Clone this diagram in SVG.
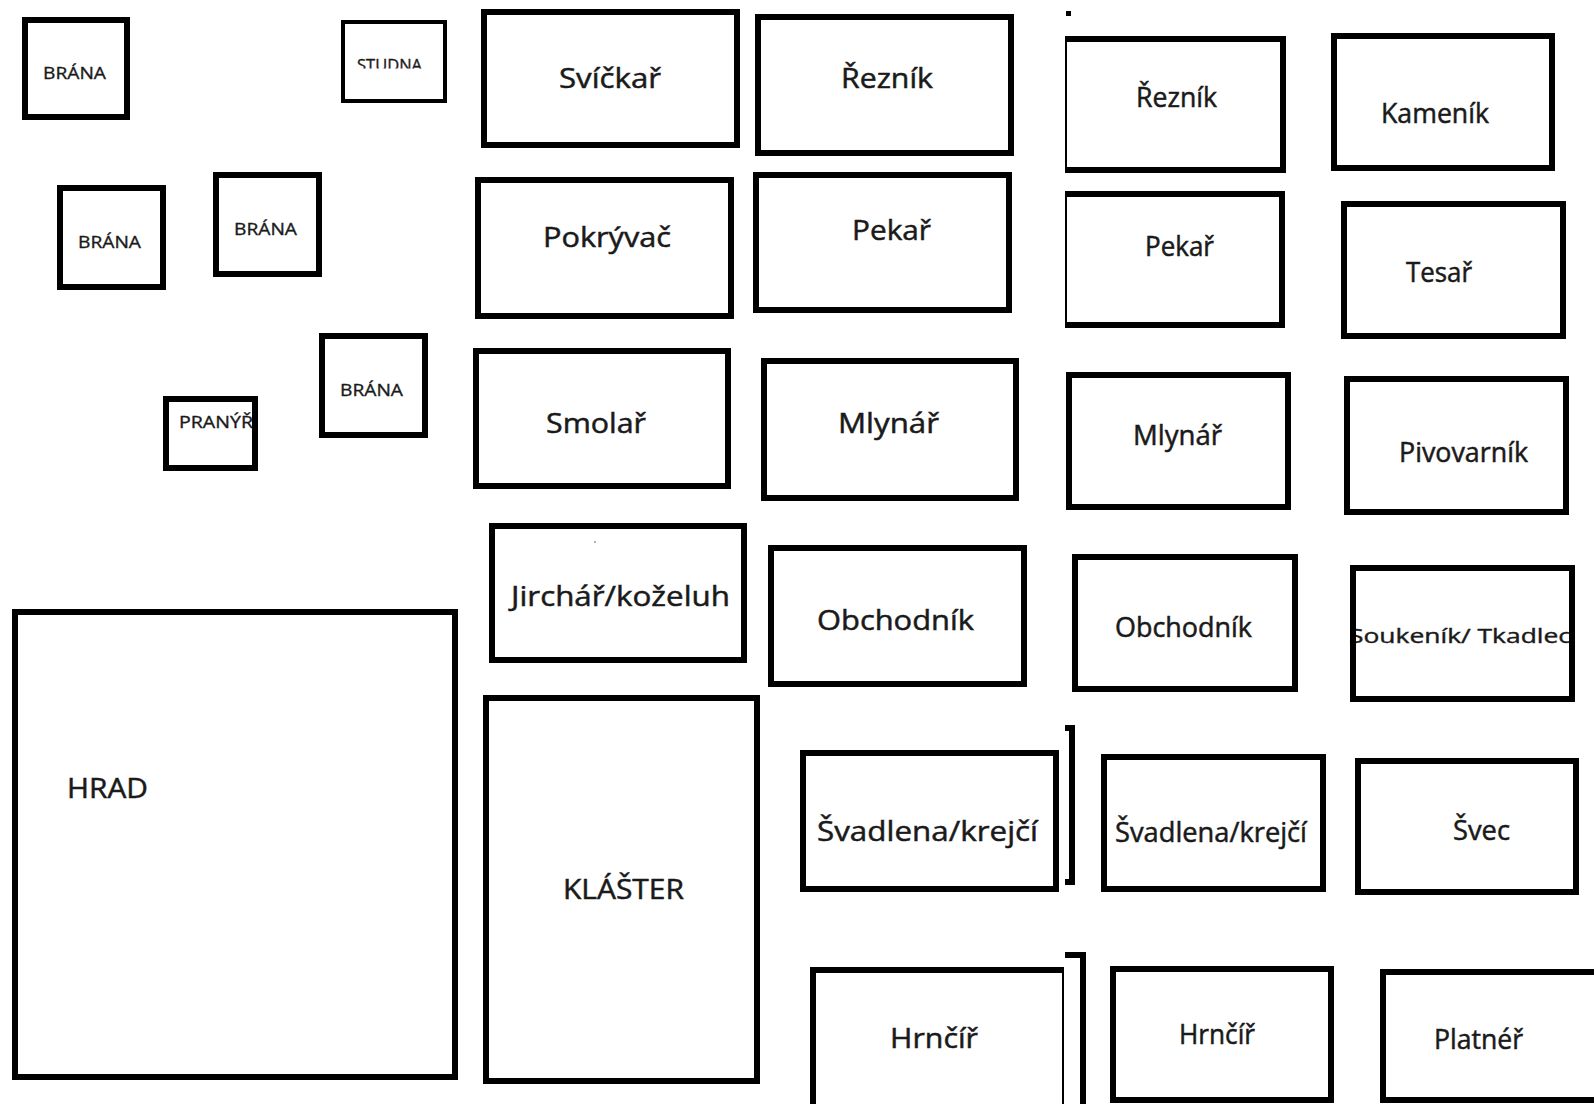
<svg xmlns="http://www.w3.org/2000/svg" width="1594" height="1104" viewBox="0 0 1594 1104">
<style>
.box{fill:none;stroke:#000;stroke-width:6;stroke-linejoin:miter}
.thinbox{fill:none;stroke:#000;stroke-width:4}
.hair{fill:none;stroke:#000;stroke-width:2}
.lbl{font-family:'Open Sans','Liberation Sans',sans-serif;fill:#1a1a1a;stroke:#1a1a1a;stroke-width:0.5;font-size:28px}
.mid{font-size:27px}
.sm{font-size:17px;stroke-width:0.35}
.xs{font-size:20px;stroke-width:0.4}
</style>
<defs>
<clipPath id="studnaClip"><rect x="345" y="24" width="98" height="44.5"/></clipPath>
</defs>
<rect x="0" y="0" width="1594" height="1104" fill="#fff"/>

<g id="brana-1"><rect class="box" x="25" y="20" width="102" height="97"/><text class="lbl sm" x="43" y="79" textLength="63" lengthAdjust="spacingAndGlyphs">BRÁNA</text></g>
<g id="studna"><rect class="thinbox" x="343" y="22" width="102" height="79"/><text class="lbl sm" x="357" y="70.5" textLength="65" lengthAdjust="spacingAndGlyphs" clip-path="url(#studnaClip)" style="font-size:16px">STUDNA</text></g>
<g id="brana-2"><rect class="box" x="60" y="188" width="103" height="99"/><text class="lbl sm" x="78" y="248" textLength="63" lengthAdjust="spacingAndGlyphs">BRÁNA</text></g>
<g id="brana-3"><rect class="box" x="216" y="175" width="103" height="99"/><text class="lbl sm" x="234" y="235" textLength="63" lengthAdjust="spacingAndGlyphs">BRÁNA</text></g>
<g id="brana-4"><rect class="box" x="322" y="336" width="103" height="99"/><text class="lbl sm" x="340" y="396" textLength="63" lengthAdjust="spacingAndGlyphs">BRÁNA</text></g>
<g id="pranyr"><text class="lbl sm" x="179" y="428" textLength="74" lengthAdjust="spacingAndGlyphs">PRANÝŘ</text><rect class="box" x="166" y="399" width="89" height="69"/></g>

<g id="svickar"><rect class="box" x="484" y="12" width="253" height="133"/><text class="lbl" x="559" y="88" textLength="102" lengthAdjust="spacingAndGlyphs">Svíčkař</text></g>
<g id="reznik-1"><rect class="box" x="758" y="17" width="253" height="136"/><text class="lbl" x="841" y="88" textLength="92" lengthAdjust="spacingAndGlyphs">Řezník</text></g>
<g id="reznik-2"><path class="box" d="M1065,39 H1283 V170 H1065"/><line class="hair" x1="1066" y1="36" x2="1066" y2="173"/><text class="lbl mid" x="1136" y="107" textLength="81" lengthAdjust="spacingAndGlyphs">Řezník</text></g>
<g id="kamenik"><rect class="box" x="1334" y="36" width="218" height="132"/><text class="lbl mid" x="1381" y="123" textLength="108" lengthAdjust="spacingAndGlyphs">Kameník</text></g>

<g id="pokryvac"><rect class="box" x="478" y="180" width="253" height="136"/><text class="lbl" x="543" y="247" textLength="128" lengthAdjust="spacingAndGlyphs">Pokrývač</text></g>
<g id="pekar-1"><rect class="box" x="756" y="175" width="253" height="135"/><text class="lbl" x="852" y="240" textLength="79" lengthAdjust="spacingAndGlyphs">Pekař</text></g>
<g id="pekar-2"><path class="box" d="M1065,194 H1282 V325 H1065"/><line class="hair" x1="1066" y1="191" x2="1066" y2="328"/><text class="lbl mid" x="1145" y="256" textLength="69" lengthAdjust="spacingAndGlyphs">Pekař</text></g>
<g id="tesar"><rect class="box" x="1344" y="204" width="219" height="132"/><text class="lbl mid" x="1406" y="282" textLength="66" lengthAdjust="spacingAndGlyphs">Tesař</text></g>

<g id="smolar"><rect class="box" x="476" y="351" width="252" height="135"/><text class="lbl" x="546" y="433" textLength="100" lengthAdjust="spacingAndGlyphs">Smolař</text></g>
<g id="mlynar-1"><rect class="box" x="764" y="361" width="252" height="137"/><text class="lbl" x="838" y="433" textLength="101" lengthAdjust="spacingAndGlyphs">Mlynář</text></g>
<g id="mlynar-2"><rect class="box" x="1069" y="375" width="219" height="132"/><text class="lbl mid" x="1133" y="445" textLength="89" lengthAdjust="spacingAndGlyphs">Mlynář</text></g>
<g id="pivovarnik"><rect class="box" x="1347" y="379" width="219" height="133"/><text class="lbl mid" x="1399" y="462" textLength="129" lengthAdjust="spacingAndGlyphs">Pivovarník</text></g>

<g id="jirchar"><rect class="box" x="492" y="526" width="252" height="134"/><circle cx="595" cy="542" r="1" fill="#999"/><text class="lbl" x="511" y="606" textLength="219" lengthAdjust="spacingAndGlyphs">Jirchář/koželuh</text></g>
<g id="obchodnik-1"><rect class="box" x="771" y="548" width="253" height="136"/><text class="lbl" x="817" y="630" textLength="157" lengthAdjust="spacingAndGlyphs">Obchodník</text></g>
<g id="obchodnik-2"><rect class="box" x="1075" y="557" width="220" height="132"/><text class="lbl mid" x="1115" y="637" textLength="137" lengthAdjust="spacingAndGlyphs">Obchodník</text></g>
<g id="soukenik"><text class="lbl xs" x="1349" y="643" textLength="222" lengthAdjust="spacingAndGlyphs">Soukeník/ Tkadlec</text><rect class="box" x="1353" y="568" width="219" height="131"/></g>

<g id="hrad"><rect class="box" x="15" y="612" width="440" height="465"/><text class="lbl" x="67" y="798" textLength="81" lengthAdjust="spacingAndGlyphs">HRAD</text></g>
<g id="klaster"><rect class="box" x="486" y="698" width="271" height="383"/><text class="lbl" x="563" y="899" textLength="121" lengthAdjust="spacingAndGlyphs">KLÁŠTER</text></g>

<g id="svadlena-1"><rect class="box" x="803" y="753" width="253" height="136"/><text class="lbl" x="817" y="841" textLength="221" lengthAdjust="spacingAndGlyphs">Švadlena/krejčí</text></g>
<g id="svadlena-2"><rect class="box" x="1104" y="757" width="219" height="132"/><text class="lbl mid" x="1115" y="842" textLength="192" lengthAdjust="spacingAndGlyphs">Švadlena/krejčí</text></g>
<g id="svec"><rect class="box" x="1358" y="761" width="218" height="131"/><text class="lbl mid" x="1453" y="840" textLength="57" lengthAdjust="spacingAndGlyphs">Švec</text></g>

<g id="hrncir-1"><path class="box" d="M813,1110 V970 H1063"/><line class="hair" x1="1063" y1="967" x2="1063" y2="1104"/><text class="lbl" x="890" y="1048" textLength="88" lengthAdjust="spacingAndGlyphs">Hrnčíř</text></g>
<g id="hrncir-2"><rect class="box" x="1113" y="969" width="218" height="131"/><text class="lbl mid" x="1179" y="1044" textLength="76" lengthAdjust="spacingAndGlyphs">Hrnčíř</text></g>
<g id="platner"><rect class="box" x="1383" y="972" width="230" height="128"/><text class="lbl mid" x="1434" y="1049" textLength="89" lengthAdjust="spacingAndGlyphs">Platnéř</text></g>

<g id="brackets">
<path class="box" d="M1065,728 H1072 V882 H1065"/>
<path class="box" d="M1065,955 H1083 V1110"/>
</g>
<g id="marks"><rect x="1066" y="11" width="5" height="5" fill="#000"/></g>
</svg>
